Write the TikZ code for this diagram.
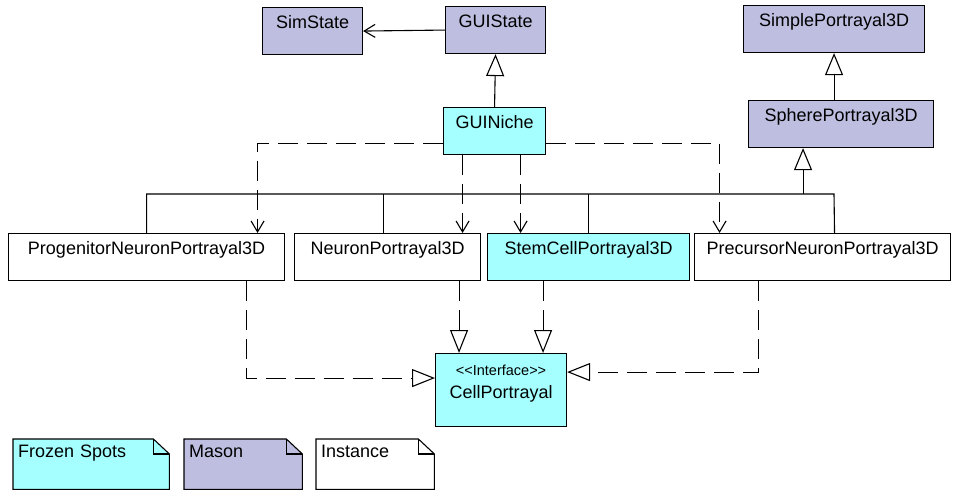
\documentclass[tikz,border=0pt]{standalone}
\usepackage{fontspec}
\setmainfont{Liberation Sans}
\usepackage{tikz}
\usetikzlibrary{arrows.meta,backgrounds}
\tikzset{>=latex}
\usepackage{xcolor}
\definecolor{frozencol}{RGB}{166,255,255}
\definecolor{masoncol}{RGB}{190,190,224}
\tikzset{
  uml/.style={draw, anchor=north west, inner sep=0pt, line width=1.1pt,
    font=\fontsize{18}{22.5}\selectfont},
  cls/.style={uml, text height=21pt, text depth=26pt, minimum height=47pt},
  note/.style={anchor=north west, inner xsep=5pt, inner ysep=0pt, align=left,
    text height=18pt, text depth=32pt, font=\fontsize{18}{22}\selectfont},
  link/.style={line width=1.1pt},
  dep/.style={link, dash pattern=on 20pt off 9pt, -{Straight Barb[length=11pt,width=13pt]}},
  real/.style={link, dash pattern=on 20pt off 9pt, -{Triangle[open,length=23pt,width=18pt,fill=white]}},
  gen/.style={link, -{Triangle[open,length=22pt,width=18pt,fill=white]}},
  assoc/.style={link, -{Straight Barb[length=11pt,width=13pt]}}
}

\begin{document}
\begin{tikzpicture}[x=1pt,y=-1pt]
  \useasboundingbox (0,0) rectangle (953,491);

  % mason classes
  \node[cls, fill=masoncol, minimum width=100pt] (simstate) at (262,7) {SimState};
  \node[cls, fill=masoncol, minimum width=100pt] (guistate) at (445,6) {GUIState};
  \node[cls, fill=masoncol, minimum width=181pt] (simple) at (743,5) {SimplePortrayal3D};
  \node[cls, fill=masoncol, minimum width=185pt] (sphere) at (748,100) {SpherePortrayal3D};

  % frozen spots and instances
  \node[cls, fill=frozencol, minimum width=102pt] (guiniche) at (443,107) {GUINiche};
  \node[cls, minimum width=276pt] (progenitor) at (8,233) {ProgenitorNeuronPortrayal3D};
  \node[cls, minimum width=186pt] (neuron) at (294,233) {NeuronPortrayal3D};
  \node[cls, fill=frozencol, minimum width=202pt] (stemcell) at (487,233) {StemCellPortrayal3D};
  \node[cls, minimum width=256pt] (precursor) at (694,233) {PrecursorNeuronPortrayal3D};
  \node[uml, fill=frozencol, minimum width=131pt, minimum height=73pt,
    text height=22pt, text depth=51pt] (cell) at (435,353)
    {\begin{tabular}[t]{@{}c@{}}{\fontsize{14.5}{16}\selectfont <{}<Interface>{}>}\\CellPortrayal\end{tabular}};

  % top links
  \draw[assoc] (guistate.west) -- (simstate.east);
  \draw[gen] (guiniche.north) -- (guistate.south);
  \draw[gen] (sphere.north -| simple.south) -- (simple.south);

  % inheritance bus
  \coordinate (busL) at (146,194);
  \coordinate (busR) at (834,194);
  \draw[link] (progenitor.north) -- (progenitor.north |- busL) -- (busR) -- ([xshift=12pt]precursor.north);
  \draw[link] ([xshift=-4pt]neuron.north) -- ([xshift=-4pt]neuron.north |- busL);
  \draw[link] (stemcell.north) -- (stemcell.north |- busL);
  \draw[gen] ([xshift=-38pt]sphere.south |- busL) -- ([xshift=-38pt]sphere.south);

  % GUINiche uses
  \draw[dep] ([yshift=-12pt]guiniche.west) -| ([xshift=111pt]progenitor.north);
  \draw[dep] ([xshift=-32pt]guiniche.south) -- ([xshift=-32pt]guiniche.south |- neuron.north);
  \draw[dep] ([xshift=26pt]guiniche.south) -- ([xshift=26pt]guiniche.south |- stemcell.north);
  \draw[dep] ([yshift=-12pt]guiniche.east) -| ([xshift=-103pt]precursor.north);

  % realizations of CellPortrayal
  \draw[real] ([xshift=100pt]progenitor.south) |- ([yshift=12pt]cell.west);
  \draw[real] ([xshift=-42pt]cell.north |- neuron.south) -- ([xshift=-42pt]cell.north);
  \draw[real] ([xshift=42pt]cell.north |- stemcell.south) -- ([xshift=42pt]cell.north);
  \draw[real] ([xshift=-64pt]precursor.south) |- ([yshift=18pt]cell.east);

  % legend
  \node[note, text width=146pt] (frozen) at (13,439) {Frozen Spots};
  \node[note, text width=108pt] (mason) at (184,439) {Mason};
  \node[note, text width=108pt] (inst) at (316,439) {Instance};
  \begin{scope}[on background layer]
    \foreach \n/\c in {frozen/frozencol, mason/masoncol, inst/white} {
      \filldraw[link, fill=\c] (\n.north west) -- ([xshift=-16pt]\n.north east)
        -- ([yshift=-15pt]\n.north east) -- (\n.south east) -- (\n.south west) -- cycle;
      \draw[link] ([xshift=-16pt]\n.north east) |- ([yshift=-15pt]\n.north east);
    }
  \end{scope}
\end{tikzpicture}
\end{document}
